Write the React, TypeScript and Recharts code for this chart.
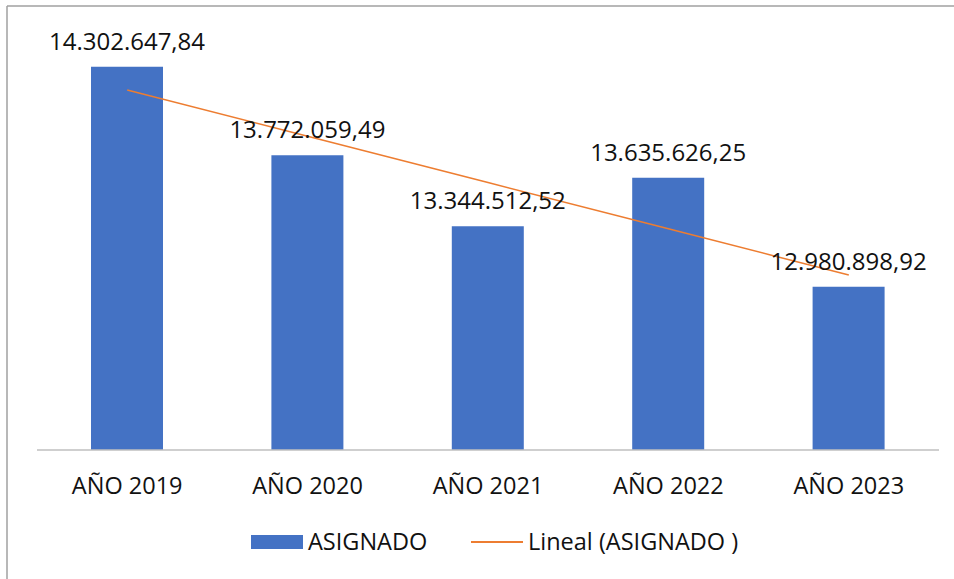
import React from 'react';
import { ComposedChart, Bar, Line, XAxis, YAxis, LabelList, Customized } from 'recharts';

const categories = ['AÑO 2019', 'AÑO 2020', 'AÑO 2021', 'AÑO 2022', 'AÑO 2023'];
const asignado = [14302647.84, 13772059.49, 13344512.52, 13635626.25, 12980898.92];
const tendencia = [14163135, 13885142, 13607149, 13329156, 13051163];
const seriesNames = ['ASIGNADO', 'Lineal (ASIGNADO )'];

const data = categories.map((c, i) => ({ name: c, asignado: asignado[i], trend: tendencia[i] }));

const FONT = '"Open Sans", "DejaVu Sans", sans-serif';

function fmt(v: number): string {
  const [ip, dp] = v.toFixed(2).split('.');
  const withDots = ip.replace(/\B(?=(\d{3})+(?!\d))/g, '.');
  return withDots + ',' + dp;
}

const BarLabel = (props: any) => {
  const { x, y, width, value } = props;
  return (
    <text x={x + width / 2} y={y - 17} textAnchor="middle" fontFamily={FONT} fontSize={24} fill="#111">
      {fmt(value)}
    </text>
  );
};

const Tick = (props: any) => {
  const { x, y, payload } = props;
  return (
    <text x={x} y={y + 36} textAnchor="middle" fontFamily={FONT} fontSize={23.5} fill="#111">
      {payload.value}
    </text>
  );
};

const LegendSvg = () => (
  <g fontFamily={FONT} fontSize={23.5} fill="#111">
    <rect x={251} y={535} width={52} height={14} fill="#4472C4" />
    <text x={308} y={550}>{seriesNames[0]}</text>
    <line x1={471} y1={542} x2={523} y2={542} stroke="#ED7D31" strokeWidth={2} />
    <text x={528} y={550}>{seriesNames[1]}</text>
  </g>
);

const Frame = () => (
  <g>
    <line x1={7} y1={6} x2={954} y2={6} stroke="#a0a0a0" strokeWidth={1.5} />
    <line x1={7} y1={6} x2={7} y2={579} stroke="#a0a0a0" strokeWidth={1.5} />
  </g>
);

export default function App() {
  return (
    <div style={{ position: 'absolute', left: 0, top: 0, width: 954, height: 579, background: '#fff' }}>
      <ComposedChart width={954} height={579} data={data} margin={{ top: 34, right: 15, bottom: 99, left: 37 }}>
        <Customized component={Frame} />
        <XAxis dataKey="name" height={30} axisLine={{ stroke: '#bfbfbf', strokeWidth: 1.5 }} tickLine={false} tick={<Tick />} interval={0} />
        <YAxis hide domain={[12000000, 14500000]} allowDataOverflow />
        <Bar dataKey="asignado" name={seriesNames[0]} fill="#4472C4" barSize={72} isAnimationActive={false}>
          <LabelList dataKey="asignado" content={<BarLabel />} />
        </Bar>
        <Line dataKey="trend" name={seriesNames[1]} stroke="#ED7D31" strokeWidth={1.5} dot={false} type="linear" isAnimationActive={false} />
        <Customized component={LegendSvg} />
      </ComposedChart>
    </div>
  );
}
